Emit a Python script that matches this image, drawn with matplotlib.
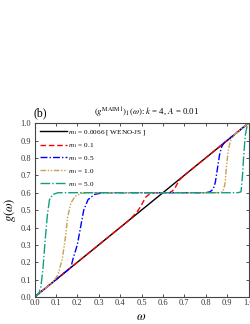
import matplotlib
matplotlib.use("Agg")
import matplotlib.pyplot as plt

plt.rcParams['font.family'] = ['Liberation Serif', 'DejaVu Serif']
plt.rcParams['mathtext.fontset'] = 'stix'

# Data
w_js = [0.0, 1.0]
g_js = [0.0, 1.0]

w_01 = [0.0, 0.44, 0.46, 0.48, 0.50, 0.52, 0.54, 0.56, 0.60, 0.63, 0.645, 0.66, 0.675, 0.70, 1.0]
g_01 = [0.0, 0.44, 0.465, 0.49, 0.53, 0.575, 0.595, 0.60, 0.60, 0.60, 0.61, 0.635, 0.67, 0.70, 1.0]

w_05 = [0.0, 0.17, 0.18, 0.20, 0.215, 0.23, 0.25, 0.28, 0.32, 0.80, 0.82, 0.835, 0.845, 0.855, 0.865, 0.875, 0.885, 1.0]
g_05 = [0.0, 0.17, 0.22, 0.30, 0.40, 0.50, 0.56, 0.59, 0.60, 0.60, 0.605, 0.62, 0.66, 0.74, 0.82, 0.865, 0.885, 1.0]

w_10 = [0.0, 0.09, 0.11, 0.13, 0.145, 0.155, 0.17, 0.19, 0.22, 0.26, 0.86, 0.88, 0.89, 0.897, 0.905, 0.915, 0.93, 1.0]
g_10 = [0.0, 0.09, 0.13, 0.22, 0.35, 0.46, 0.54, 0.58, 0.597, 0.60, 0.60, 0.605, 0.65, 0.75, 0.84, 0.895, 0.93, 1.0]

w_50 = [0.0, 0.02, 0.03, 0.04, 0.05, 0.06, 0.07, 0.085, 0.11, 0.95, 0.965, 0.972, 0.978, 0.985, 0.993, 1.0]
g_50 = [0.0, 0.02, 0.06, 0.17, 0.33, 0.47, 0.56, 0.59, 0.60, 0.60, 0.605, 0.70, 0.82, 0.93, 0.98, 1.0]

labels = [r'$m_1$ = 0.0066 [ WENO-JS ]', r'$m_1$ = 0.1', r'$m_1$ = 0.5',
          r'$m_1$ = 1.0', r'$m_1$ = 5.0']
ticks = [0.0, 0.1, 0.2, 0.3, 0.4, 0.5, 0.6, 0.7, 0.8, 0.9, 1.0]

fig = plt.figure(figsize=(2.5, 3.24), dpi=100)
ax = fig.add_axes([0.138, 0.083, 0.856, 0.537])

ax.plot(w_js, g_js, color='black', lw=1.0, label=labels[0])
ax.plot(w_01, g_01, color='red', lw=1.0, dashes=(4, 2), label=labels[1])
ax.plot(w_05, g_05, color='blue', lw=1.0, dashes=(5, 1.5, 1, 1.5), label=labels[2])
ax.plot(w_10, g_10, color='#c8a050', lw=1.0, dashes=(4, 1.2, 1, 1.2, 1, 1.2), label=labels[3])
ax.plot(w_50, g_50, color='#10a080', lw=1.0, dashes=(7, 1.5, 1, 1.5), label=labels[4])

ax.set_xlim(0, 1)
ax.set_ylim(0, 1)
ax.set_xticks(ticks)
ax.set_yticks(ticks)
ax.set_xticklabels(['%.1f' % t for t in ticks])
ax.set_yticklabels(['%.1f' % t for t in ticks])
ax.tick_params(direction='in', length=2, width=0.6, labelsize=6, pad=1.5,
               top=True, right=True, colors='#333333')
ax.tick_params(axis='y', pad=2.5)
for s in ax.spines.values():
    s.set_linewidth(0.8)
    s.set_color('#444444')

ax.set_xlabel(r'$\omega$', fontsize=9, labelpad=3)
ax.set_ylabel(r'$g(\omega)$', fontsize=9, labelpad=2)

fig.text(0.585, 0.651, r'$(g^{\mathrm{MAIM1}})_1(\omega)$: $k$ = 4, $A$ = 0.01',
         ha='center', va='center', fontsize=6.3)
fig.text(0.135, 0.651, '(b)', ha='left', va='center', fontsize=8.5)

ax.legend(loc='upper left', frameon=False, fontsize=5.2, handlelength=3.8,
          handletextpad=0.2, labelspacing=0.55, borderaxespad=0.3,
          bbox_to_anchor=(0.0, 1.0))

fig.savefig('out.png', dpi=100)
